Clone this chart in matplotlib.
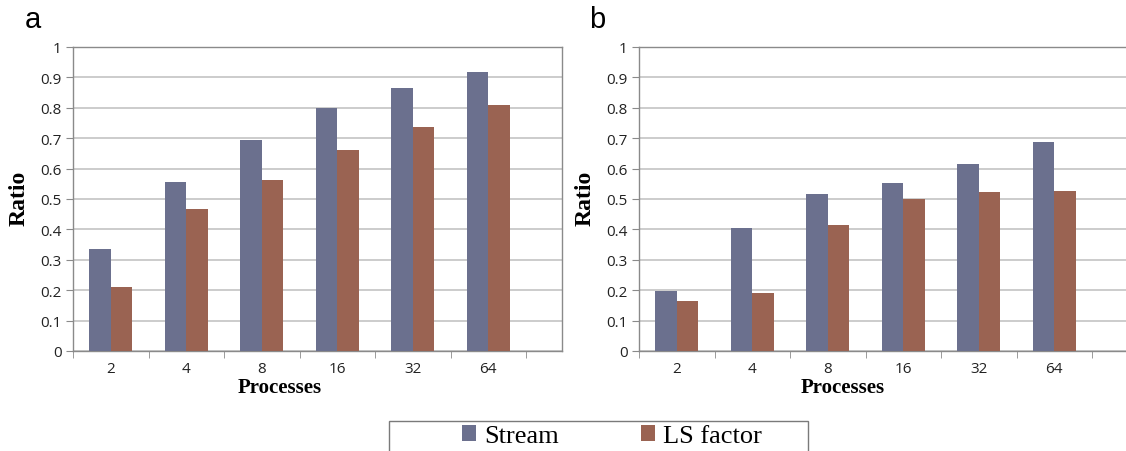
import numpy as np
import matplotlib
matplotlib.use("Agg")
import matplotlib.pyplot as plt
from matplotlib.patches import Rectangle

processes = ["2", "4", "8", "16", "32", "64"]
stream_a = [0.335, 0.557, 0.693, 0.798, 0.866, 0.918]
ls_a = [0.212, 0.467, 0.562, 0.660, 0.738, 0.810]
stream_b = [0.197, 0.406, 0.516, 0.554, 0.614, 0.688]
ls_b = [0.165, 0.192, 0.414, 0.499, 0.524, 0.527]

c_stream = "#6b708e"
c_ls = "#9a6352"
grid_c = "#c4c4c4"
spine_c = "#8a8a8a"
tick_font = "Open Sans"
serif = "Liberation Serif"

fig = plt.figure(figsize=(11.26, 4.52), dpi=100)
W, H = 1126.0, 452.0


def panel(left, right, data_s, data_l, letter, letter_x, ylab_x, xlab_x, right_spine):
    ax = fig.add_axes([left / W, 1 - 352 / H, (right - left) / W, (352 - 48) / H])
    x = np.arange(len(processes))
    bw = 0.283
    ax.bar(x - bw / 2, data_s, bw, color=c_stream, label="Stream", zorder=3)
    ax.bar(x + bw / 2, data_l, bw, color=c_ls, label="LS factor", zorder=3)
    ax.set_xlim(-0.5, -0.5 + (right - left) / 75.5)
    ax.set_ylim(0, 1)
    ax.set_yticks(np.arange(0, 1.01, 0.1))
    ax.set_yticklabels(["0", "0.1", "0.2", "0.3", "0.4", "0.5", "0.6", "0.7", "0.8", "0.9", "1"],
                       fontfamily=tick_font, fontsize=11, color="#222222")
    ax.set_xticks(x)
    ax.set_xticklabels(processes, fontfamily=tick_font, fontsize=11, color="#222222")
    ax.set_xticks(np.arange(-0.5, 6.0, 1.0), minor=True)
    ax.tick_params(axis="x", which="major", length=0, pad=7)
    ax.tick_params(axis="x", which="minor", length=5, color=spine_c, direction="out")
    ax.tick_params(axis="y", length=5, color=spine_c, pad=3)
    ax.yaxis.grid(True, color=grid_c, linewidth=1.2, zorder=0)
    ax.set_axisbelow(True)
    for s in ["left", "bottom", "top", "right"]:
        ax.spines[s].set_color(spine_c)
        ax.spines[s].set_linewidth(1.0)
    ax.spines["right"].set_visible(right_spine)
    fig.text(letter_x / W, 1 - 20 / H, letter, fontfamily="Liberation Sans", fontsize=21,
             ha="center", va="center")
    fig.text(ylab_x / W, 1 - 198 / H, "Ratio", fontfamily=serif, fontweight="bold", fontsize=17,
             rotation=90, ha="center", va="center")
    fig.text(xlab_x / W, 1 - 388 / H, "Processes", fontfamily=serif, fontweight="bold", fontsize=15,
             ha="center", va="center")
    return ax


ax1 = panel(73, 562, stream_a, ls_a, "a", 33, 19, 280, True)
ax2 = panel(639, 1126, stream_b, ls_b, "b", 597, 585, 843, False)

# legend box
fig.patches.append(Rectangle((389 / W, -0.05), (808 - 389) / W, 0.05 + 30 / H,
                             transform=fig.transFigure, facecolor="white",
                             edgecolor="#7a7a7a", linewidth=1.0))
handles, labels = ax1.get_legend_handles_labels()
leg = fig.legend(handles, labels, loc="center", ncol=2,
                 bbox_to_anchor=(612 / W, 1 - 437 / H),
                 prop={"family": serif, "size": 19}, frameon=False,
                 handlelength=0.55, handleheight=0.55, handletextpad=0.3,
                 columnspacing=3.1)

fig.savefig("out.png", dpi=100, facecolor="white")
